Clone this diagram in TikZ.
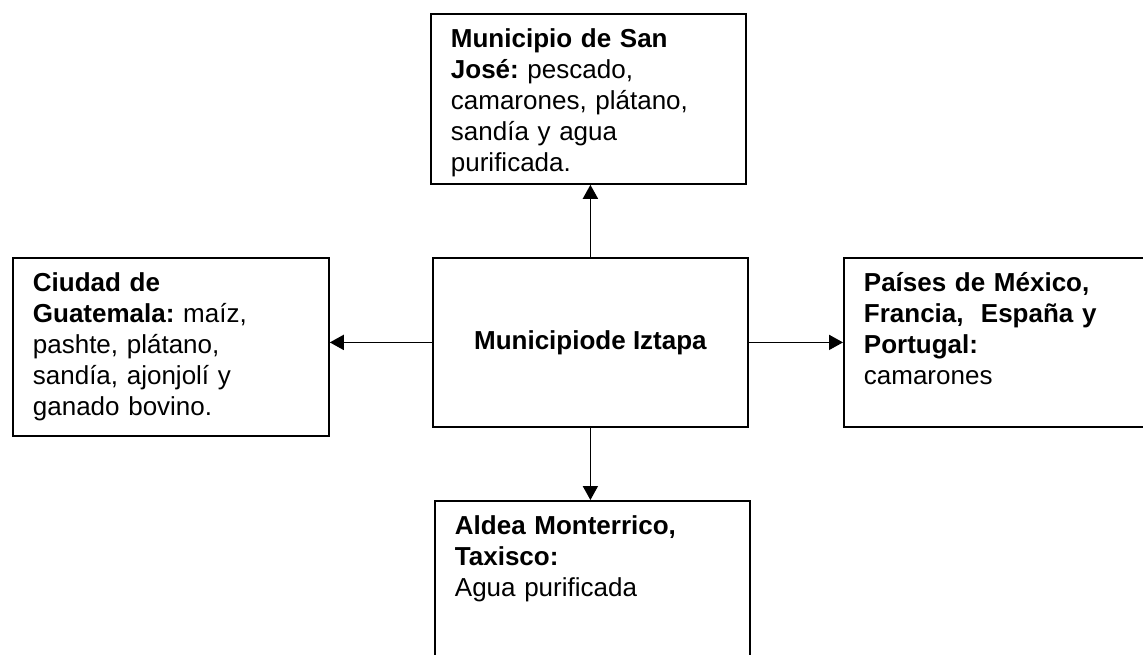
\documentclass[tikz,border=0pt]{standalone}
\usepackage{fontspec}
\setmainfont{Liberation Sans}
\usetikzlibrary{arrows.meta}
\frenchspacing

\begin{document}
\begin{tikzpicture}[x=0.5pt,y=-0.5pt,
  caja/.style={draw,line width=0.9pt,anchor=north west,align=left,
    inner xsep=10pt,inner ysep=7.5pt,text height=9.5pt,
    font=\fontsize{13pt}{15.5pt}\selectfont},
  flecha/.style={line width=0.9pt,-{Triangle[length=7pt,width=7.5pt]}}]
% page area
\clip (0,0) rectangle (1143,654);

% central municipality
\node[draw,line width=0.9pt,anchor=north west,minimum width=157.5pt,
  minimum height=84.5pt,inner sep=0pt,
  font=\fontsize{13pt}{15.5pt}\selectfont\bfseries] (iztapa) at (432,257)
  {Municipiode Iztapa};

% destinations
\node[caja,text width=137.5pt,text depth=60.5pt] (sanjose) at (430,13)
  {\textbf{Municipio de San}\\ \textbf{José:} pescado,\\ camarones, plátano,\\ sandía y agua\\ purificada.};
\node[caja,text width=138pt,text depth=64.5pt] (guate) at (12,257)
  {\textbf{Ciudad de}\\ \textbf{Guatemala:} maíz,\\ pashte, plátano,\\ sandía, ajonjolí y\\ ganado bovino.};
\node[caja,text width=138.5pt,text depth=60pt] (paises) at (843,257)
  {\textbf{Países de México,}\\ \textbf{Francia,\ \ España y}\\ \textbf{Portugal:}\\ camarones};
\node[caja,text width=137.5pt,text depth=60.5pt] (aldea) at (434,500)
  {\textbf{Aldea Monterrico,}\\ \textbf{Taxisco:}\\ Agua purificada};

% arrows out of Iztapa
\draw[flecha] (iztapa.north) -- (iztapa.north |- sanjose.south);
\draw[flecha] (iztapa.west) -- (iztapa.west -| guate.east);
\draw[flecha] (iztapa.east) -- (iztapa.east -| paises.west);
\draw[flecha] (iztapa.south) -- (iztapa.south |- aldea.north);
\end{tikzpicture}
\end{document}
